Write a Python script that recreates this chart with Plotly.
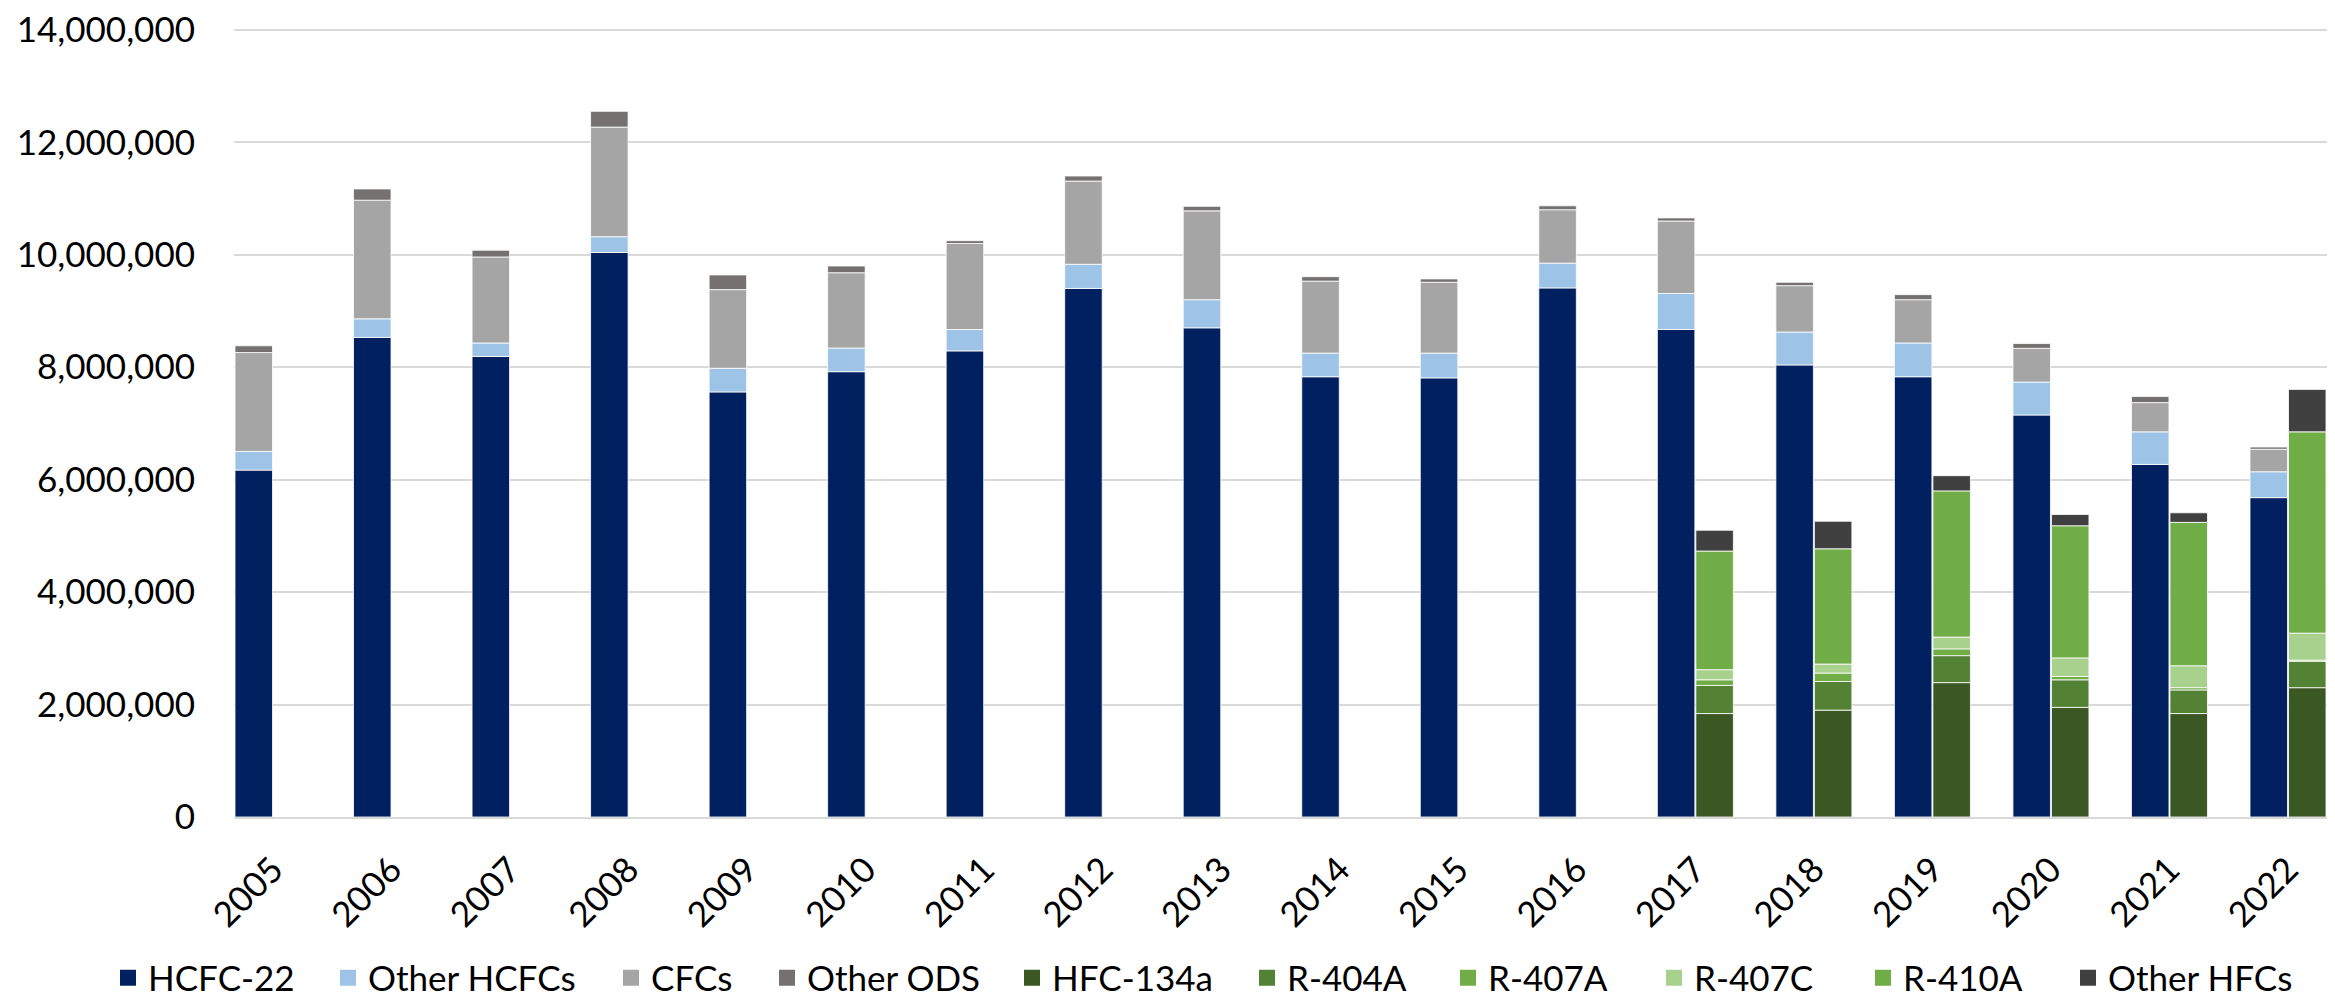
import plotly.graph_objects as go

years = [str(y) for y in range(2005, 2023)]
hfc_years = [str(y) for y in range(2017, 2023)]

# ODS series (values)
hcfc22 = [6170000, 8530000, 8190000, 10040000, 7560000, 7920000, 8290000, 9400000, 8700000,
          7830000, 7810000, 9410000, 8670000, 8040000, 7830000, 7150000, 6270000, 5680000]
other_hcfcs = [330000, 330000, 240000, 280000, 420000, 420000, 380000, 430000, 500000,
               420000, 440000, 440000, 640000, 585000, 600000, 585000, 580000, 460000]
cfcs = [1760000, 2110000, 1530000, 1950000, 1400000, 1340000, 1530000, 1480000, 1580000,
        1280000, 1260000, 950000, 1290000, 825000, 770000, 600000, 520000, 400000]
other_ods = [120000, 200000, 120000, 280000, 260000, 120000, 50000, 90000, 80000,
             80000, 60000, 70000, 55000, 60000, 90000, 85000, 110000, 40000]

# HFC series (2017-2022)
hfc134a = [1840000, 1900000, 2390000, 1950000, 1840000, 2300000]
r404a = [500000, 510000, 480000, 490000, 420000, 470000]
r407a = [100000, 150000, 120000, 60000, 40000, 20000]
r407c = [180000, 160000, 210000, 330000, 390000, 480000]
r410a = [2110000, 2050000, 2600000, 2350000, 2550000, 3580000]
other_hfcs = [370000, 490000, 270000, 200000, 170000, 755000]

ods_series = [
    ("HCFC-22", hcfc22, "#002060"),
    ("Other HCFCs", other_hcfcs, "#9DC3E6"),
    ("CFCs", cfcs, "#A5A5A5"),
    ("Other ODS", other_ods, "#767171"),
]
hfc_series = [
    ("HFC-134a", hfc134a, "#3A5724"),
    ("R-404A", r404a, "#548235"),
    ("R-407A", r407a, "#70AD47"),
    ("R-407C", r407c, "#A9D18E"),
    ("R-410A", r410a, "#70AD47"),
    ("Other HFCs", other_hfcs, "#404040"),
]

ODS_OFF = -0.1624
HFC_OFF = 0.1624
BAR_W = 0.3165
FONT = "Lato, Carlito, Calibri, sans-serif"
FS = 35

# plot-area geometry (pixels) used to place the per-item legends
PLOT_L, PLOT_W = 226, 2093
LEGEND_MARKER_PX = [122, 342, 625, 781, 1026, 1261, 1462, 1668, 1877, 2082]

idx = list(range(len(years)))
hfc_idx = [years.index(y) for y in hfc_years]

fig = go.Figure()
all_series = [(s, idx, ODS_OFF) for s in ods_series] + [(s, hfc_idx, HFC_OFF) for s in hfc_series]

# bars
for (name, vals, col), xs, off in all_series:
    fig.add_trace(go.Bar(
        name=name, x=[i + off for i in xs], y=vals, width=BAR_W,
        showlegend=False,
        marker=dict(color=col, line=dict(color="rgba(255,255,255,0.8)", width=1)),
    ))

# legend entries (square keys), one legend per entry for Excel-like spacing
legend_layouts = {}
for k, ((name, vals, col), xs, off) in enumerate(all_series):
    lname = "legend" if k == 0 else f"legend{k + 1}"
    fig.add_trace(go.Scatter(
        name=name, x=[None], y=[None], mode="markers",
        marker=dict(symbol="square", size=16, color=col),
        legend=lname, showlegend=True, hoverinfo="skip",
    ))
    legend_layouts[lname] = dict(
        orientation="h", itemsizing="trace",
        x=(LEGEND_MARKER_PX[k] - 22 - PLOT_L) / PLOT_W, xanchor="left",
        yref="container", y=0.032, yanchor="middle",
        font=dict(family=FONT, size=FS, color="black"),
        bgcolor="rgba(0,0,0,0)", borderwidth=0,
    )

fig.update_layout(
    barmode="relative",
    width=2335, height=1002,
    margin=dict(l=226, r=16, t=19, b=193, autoexpand=False),
    paper_bgcolor="white", plot_bgcolor="white",
    font=dict(family=FONT, size=FS, color="black"),
    showlegend=True,
    xaxis=dict(
        range=[-0.329, 17.329], automargin=False,
        tickmode="array", tickvals=idx, ticktext=years, tickangle=-45,
        showgrid=False, zeroline=False,
        showline=True, linecolor="#D9D9D9", linewidth=2,
        ticks="", ticklabelstandoff=16,
        tickfont=dict(family=FONT, size=FS, color="black"),
    ),
    yaxis=dict(
        range=[0, 14050000], automargin=False, tickmode="linear", tick0=0, dtick=2000000,
        tickformat=",d", ticklabeloverflow="allow",
        showgrid=True, gridcolor="#D9D9D9", gridwidth=2,
        zeroline=False, showline=False, ticks="", ticklabelstandoff=38,
        tickfont=dict(family=FONT, size=FS, color="black"),
    ),
    **legend_layouts,
)

fig.write_html("out.html")
